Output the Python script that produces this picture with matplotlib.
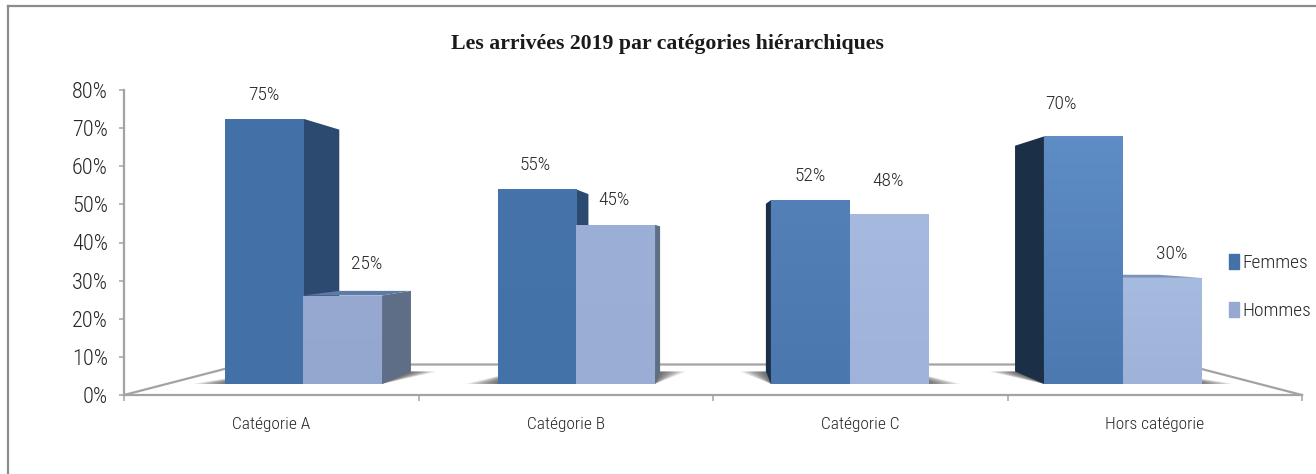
import numpy as np
import matplotlib
matplotlib.use("Agg")
import matplotlib.pyplot as plt
from matplotlib.colors import LinearSegmentedColormap
from matplotlib.lines import Line2D
from matplotlib.patches import Patch

plt.rcParams["font.family"] = ["Roboto Condensed", "Liberation Sans", "DejaVu Sans"]
plt.rcParams["font.weight"] = 300

categories = ["Catégorie A", "Catégorie B", "Catégorie C", "Hors catégorie"]
femmes = [75, 55, 52, 70]
hommes = [25, 45, 48, 30]
y_ticks = [0, 10, 20, 30, 40, 50, 60, 70, 80]

# colours, per category
femmes_grad = [("#4472a8", "#4370a6"), ("#4674aa", "#4272a8"), ("#5280b7", "#4a78ae"), ("#5e8cc5", "#4c79b0")]
hommes_grad = [("#97a9d0", "#93a8cf"), ("#9cafd6", "#9aadd4"), ("#a6badf", "#9fb3db"), ("#a6bbe0", "#9fb3da")]
femmes_side = ["#2c4a70", "#2c4a70", "#1b2f46", "#1b2f46"]
hommes_side = ["#5e6e86", "#5e6e86", "#8c9dbd", "#8c9dbd"]
top_colors = ["#5d7ba9", "#5d7ba9", "#7f93b8", "#7f93b8"]

# label offsets from the top centre of each bar (pixels)
femmes_offset = [(0, 24), (-2, 24), (0, 24), (-22, 32)]
hommes_offset = [(24, 32), (-2, 25), (-1, 33), (10, 24)]

GRAY = "#a3a3a3"
TEXT = "#262626"

# simple perspective: everything shrinks towards a vanishing point
VX, VY = 2.0, 40.0
S_FRONT = 0.927
S_BACK = 0.846
S_FLOOR = 0.80
BAR_W = 0.2877
GROUP_OFF = 0.5


def px(x, s):
    return VX + (x - VX) * s


def py(v, s):
    return VY + (v - VY) * s


fig = plt.figure(figsize=(13.16, 4.74), dpi=100)
ax = fig.add_axes([124 / 1316, 79 / 474, 1178 / 1316, 305 / 474])
ax.set_xlim(0, 4)
ax.set_ylim(0, 80)
ax.patch.set_alpha(0)

# frame of the picture
fig.add_artist(Line2D([8 / 1316, 8 / 1316], [0, 468 / 474], color="#8c8c8c", lw=1.6))
fig.add_artist(Line2D([8 / 1316, 1], [468 / 474, 468 / 474], color="#8c8c8c", lw=1.6))

# floor
ax.plot([0, px(0, S_FLOOR), px(4, S_FLOOR), 4],
        [0, py(0, S_FLOOR), py(0, S_FLOOR), 0],
        color=GRAY, lw=1.6, zorder=1, clip_on=False)


def draw_shadow(left, right, i):
    fl, fr = px(left, S_FRONT), px(right, S_FRONT)
    bl, br = px(left, S_BACK), px(right, S_BACK)
    y0, y1 = py(0, S_FRONT), py(0, S_BACK)
    for w in np.arange(0.01, 0.12, 0.01):
        if i < 2:
            xs = [fl - w, fr, br + w * 0.8, bl]
        else:
            xs = [fl, fr + w, br, bl - w * 0.8]
        ax.fill(xs, [y0, y0, y1, y1], color="#2a2a2a", alpha=0.09, lw=0, zorder=2)


def draw_side(left, right, v, side_color, top_color):
    y0f, y1f = py(0, S_FRONT), py(v, S_FRONT)
    y0b, y1b = py(0, S_BACK), py(v, S_BACK)
    if right < VX:
        ax.fill([px(right, S_FRONT), px(right, S_BACK), px(right, S_BACK), px(right, S_FRONT)],
                [y0f, y0b, y1b, y1f], color=side_color, lw=0, zorder=3)
    if left > VX:
        ax.fill([px(left, S_FRONT), px(left, S_BACK), px(left, S_BACK), px(left, S_FRONT)],
                [y0f, y0b, y1b, y1f], color=side_color, lw=0, zorder=3)
    if v < VY:
        ax.fill([px(left, S_FRONT), px(left, S_BACK), px(right, S_BACK), px(right, S_FRONT)],
                [y1f, y1b, y1b, y1f], color=top_color, lw=0, zorder=4)


def draw_front(left, right, v, grad):
    x0, x1 = px(left, S_FRONT), px(right, S_FRONT)
    y0, y1 = py(0, S_FRONT), py(v, S_FRONT)
    bar = ax.bar(x0, y1 - y0, width=x1 - x0, bottom=y0, align="edge",
                 color=grad[1], lw=0, zorder=5)[0]
    cmap = LinearSegmentedColormap.from_list("g", list(grad))
    im = ax.imshow(np.linspace(0, 1, 64).reshape(-1, 1), cmap=cmap, aspect="auto",
                   extent=[x0, x1, y0, y1], origin="upper", zorder=5.1)
    im.set_clip_path(bar)


for i in range(len(categories)):
    center = i + GROUP_OFF
    f_left, mid, h_right = center - BAR_W, center, center + BAR_W
    draw_shadow(f_left, h_right, i)
    draw_side(f_left, mid, femmes[i], femmes_side[i], top_colors[i])
    draw_side(mid, h_right, hommes[i], hommes_side[i], top_colors[i])
    draw_front(f_left, mid, femmes[i], femmes_grad[i])
    draw_front(mid, h_right, hommes[i], hommes_grad[i])

    for left, right, v, off in [(f_left, mid, femmes[i], femmes_offset[i]),
                                (mid, h_right, hommes[i], hommes_offset[i])]:
        ax.annotate(f"{v}%", (px((left + right) / 2, S_FRONT), py(v, S_FRONT)),
                    xytext=(off[0] * 0.72, off[1] * 0.72), textcoords="offset points",
                    ha="center", va="center", fontsize=14, color=TEXT, zorder=6)

ax.set_xlim(0, 4)
ax.set_ylim(0, 80)

# axes
for name in ["top", "right"]:
    ax.spines[name].set_visible(False)
for name in ["left", "bottom"]:
    ax.spines[name].set_color(GRAY)
    ax.spines[name].set_linewidth(1.6)
    ax.spines[name].set_zorder(1.5)

ax.set_yticks(y_ticks)
ax.set_yticklabels([f"{t}%" for t in y_ticks], fontsize=16, color=TEXT)
ax.tick_params(axis="y", length=3.6, width=1.1, color=GRAY, pad=8)
ax.set_xticks(range(5))
ax.set_xticklabels([])
ax.tick_params(axis="x", which="major", length=4, width=1.1, color=GRAY)
ax.set_xticks([i + 0.5 for i in range(4)], minor=True)
ax.set_xticklabels(categories, minor=True, fontsize=12.5, color=TEXT)
ax.tick_params(axis="x", which="minor", length=0, pad=16)

fig.text(667 / 1316, 430 / 474, "Les arrivées 2019 par catégories hiérarchiques",
         family="Liberation Serif", fontweight="bold", fontsize=15.7,
         ha="center", va="center", color="#1a1a1a")

handles = [Patch(color=femmes_grad[0][0]), Patch(color=hommes_grad[0][0])]
fig.legend(handles, ["Femmes", "Hommes"], loc="center left",
           bbox_to_anchor=(1229 / 1316, 187 / 474), frameon=False, fontsize=14,
           handlelength=0.5, handleheight=0.85, handletextpad=0.2,
           labelspacing=1.5, borderpad=0, borderaxespad=0, labelcolor=TEXT)

fig.savefig("out.png", dpi=100, facecolor="white")
